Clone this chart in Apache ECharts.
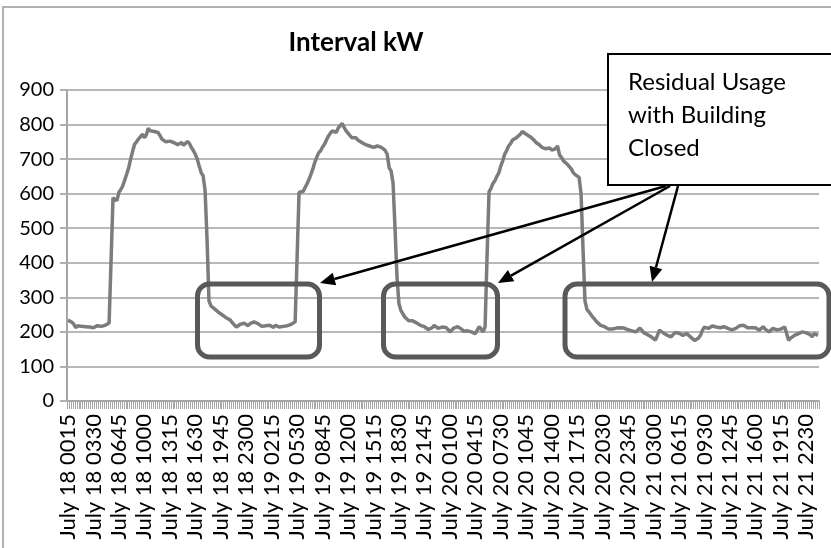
<!DOCTYPE html>
<html>
<head>
<meta charset="utf-8">
<script src="https://cdn.jsdelivr.net/npm/echarts@6/dist/echarts.min.js"></script>
<style>
html,body{margin:0;padding:0;background:#fff;}
#chart{width:831px;height:548px;}
</style>
</head>
<body>
<div id="chart"></div>
<script>
// ---- data (15-minute interval kW, July 18 00:15 .. July 22 00:00) ----
var days = [18, 19, 20, 21];
var kwJuly18 = [234,232,228,222,212,218,214,216,213,215,217,214,216,212,215,218,214,216,215,219,222,226,
  228,588,585,580,604,612,623,640,657,675,700,722,743,
  750,758,762,772,762,770,789,782,777,780,778,777,
  768,758,755,750,748,752,748,748,745,742,743,748,
  740,745,751,745,734,725,714,700,680,661,652,610,
  470,290,275,272,266,262,256,252,248,246,240,236,
  234,226,220,214,218,222,220,225,222,218,224,226,229];
var kwJuly19 = [229,224,220,216,215,218,221,219,216,213,219,223,214,211,216,220,218,214,222,226,229,231,
  604,600,606,609,628,640,655,671,690,705,718,724,
  735,743,755,767,775,782,780,777,790,795,803,792,
  782,775,768,762,765,762,755,752,748,748,742,740,
  738,736,734,736,738,738,734,734,725,714,675,666,
  630,500,360,282,262,253,243,238,232,229,232,234,
  226,222,219,217,215,210,207,205,212,219,214,210,211,214];
var kwJuly20 = [215,213,207,200,205,211,213,215,214,208,202,200,
  203,205,200,197,195,205,215,208,200,215,420,605,
  615,630,637,650,660,680,695,714,725,738,745,755,
  758,762,767,772,780,778,772,767,765,762,755,748,
  743,740,734,736,730,729,732,726,724,730,738,712,
  705,695,690,685,681,672,661,655,652,647,600,440,
  290,265,258,250,243,236,229,224,219,217,215,212,
  208,205,208,210,211,209,212,210,211,208,206,205];
var kwJuly21 = [203,202,200,205,211,205,198,195,192,190,185,180,
  176,190,205,200,197,195,190,188,186,192,198,200,
  196,192,190,193,195,190,185,181,175,171,182,190,
  205,214,212,210,214,217,219,214,210,212,216,215,
  212,210,208,206,205,210,215,218,219,219,214,212,
  210,212,215,212,208,205,210,215,208,203,200,205,
  210,208,206,205,208,210,214,219,176,182,186,190,
  193,195,198,200,200,197,195,192,186,195,200,190];
var chartTitle = 'Interval kW';
var noteLines = ['Residual Usage', 'with Building', 'Closed'];
var yTicks = {min: 0, max: 900, step: 100};

// ---- categories: one per 15-minute interval ----
var categories = [];
for (var d = 0; d < days.length; d++) {
  for (var s = 1; s <= 96; s++) {
    var mins = s * 15;
    var day = days[d] + Math.floor(mins / 1440);
    var m = mins % 1440;
    var hh = Math.floor(m / 60), mm = m % 60;
    categories.push('July ' + day + ' ' + (hh < 10 ? '0' : '') + hh + (mm < 10 ? '0' : '') + mm);
  }
}
var values = kwJuly18.concat(kwJuly19, kwJuly20, kwJuly21);

// ---- annotation helpers ----
function arrow(x1, y1, x2, y2) {
  var dx = x2 - x1, dy = y2 - y1, len = Math.sqrt(dx*dx + dy*dy);
  var ux = dx/len, uy = dy/len, hl = 15, hw = 6.5;
  var bx = x2 - ux*hl, by = y2 - uy*hl;
  return [
    {type: 'line', shape: {x1: x1, y1: y1, x2: bx, y2: by}, style: {stroke: '#000', lineWidth: 2.5}, z: 20},
    {type: 'polygon', shape: {points: [[x2, y2], [bx - uy*hw, by + ux*hw], [bx + uy*hw, by - ux*hw]]}, style: {fill: '#000'}, z: 20}
  ];
}
function rbox(x1, y1, x2, y2) {
  return {type: 'rect', shape: {x: x1, y: y1, width: x2 - x1, height: y2 - y1, r: 12},
    style: {fill: 'none', stroke: '#595959', lineWidth: 5}, z: 15};
}

var graphics = [
  {type: 'rect', shape: {x: 3, y: 7, width: 900, height: 700}, style: {fill: 'none', stroke: '#b0b0b0', lineWidth: 2}, z: 1, silent: true},
  {type: 'text', x: 356, y: 43, style: {text: chartTitle, font: 'bold 26px Lato', fill: '#000', textAlign: 'center', textVerticalAlign: 'middle'}, z: 10},
  rbox(197.5, 284, 319.5, 357),
  rbox(383.5, 284, 497.5, 357),
  rbox(565, 284, 829, 357),
  {type: 'rect', shape: {x: 608, y: 54, width: 240, height: 131}, style: {fill: '#fff', stroke: '#000', lineWidth: 2}, z: 18}
];
for (var k = 0; k < noteLines.length; k++) {
  graphics.push({type: 'text', x: 628, y: 82 + k*33, style: {text: noteLines[k], font: '24px Lato', fill: '#000', textVerticalAlign: 'middle'}, z: 19});
}
graphics = graphics.concat(arrow(666, 186, 320, 283), arrow(670, 186, 498, 283), arrow(678, 186, 652, 282));

var chart = echarts.init(document.getElementById('chart'), null, {renderer: 'canvas'});
chart.setOption({
  animation: false,
  backgroundColor: '#fff',
  grid: {left: 67, right: 12, top: 90, bottom: 147, containLabel: false},
  xAxis: {
    type: 'category',
    data: categories,
    boundaryGap: true,
    axisLine: {lineStyle: {color: '#a6a6a6', width: 2}},
    axisTick: {show: true, interval: 0, length: 8, lineStyle: {color: '#a8a8a8', width: 1}},
    axisLabel: {interval: 12, rotate: 90, fontFamily: 'Lato', fontSize: 22, color: '#000', margin: 13}
  },
  yAxis: {
    type: 'value',
    min: yTicks.min, max: yTicks.max, interval: yTicks.step,
    axisLine: {show: true, lineStyle: {color: '#a6a6a6', width: 2}},
    axisTick: {show: true, length: 7, lineStyle: {color: '#b0b0b0', width: 2}},
    axisLabel: {fontFamily: 'Lato', fontSize: 20, color: '#000', margin: 13},
    splitLine: {show: true, lineStyle: {color: '#b8b8b8', width: 2}}
  },
  series: [{
    type: 'line',
    data: values,
    showSymbol: false,
    symbol: 'none',
    lineStyle: {color: '#7c7c7c', width: 3.5},
    z: 5
  }],
  graphic: graphics
});
</script>
</body>
</html>
